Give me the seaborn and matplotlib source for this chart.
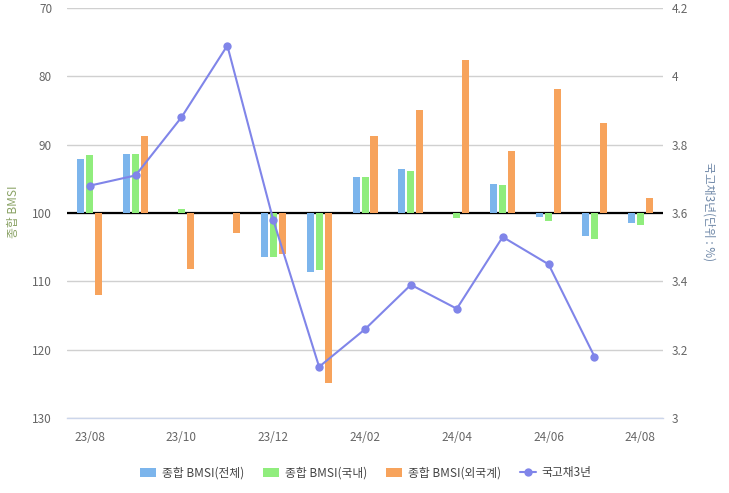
import numpy as np
import pandas as pd
import matplotlib
matplotlib.use("Agg")
import matplotlib.pyplot as plt
import seaborn as sns
from matplotlib.patches import Patch
from matplotlib.lines import Line2D

months = ['23/08', '23/09', '23/10', '23/11', '23/12', '24/01', '24/02',
          '24/03', '24/04', '24/05', '24/06', '24/07', '24/08']
bmsi_total = [92.1, 91.3, 100.0, 100.0, 106.4, 108.6, 94.7, 93.6, 100.0, 95.8, 100.6, 103.3, 101.5]
bmsi_domestic = [91.5, 91.4, 99.4, 100.0, 106.5, 108.3, 94.8, 93.8, 100.8, 95.9, 101.1, 103.8, 101.7]
bmsi_foreign = [112.0, 88.7, 108.2, 102.9, 106.0, 124.9, 88.7, 84.9, 77.6, 90.9, 81.9, 86.8, 97.8]
ktb3y = [3.68, 3.71, 3.88, 4.09, 3.58, 3.15, 3.26, 3.39, 3.32, 3.53, 3.45, 3.18, np.nan]

series_names = ['종합 BMSI(전체)', '종합 BMSI(국내)', '종합 BMSI(외국계)']
line_name = '국고채3년'
colors = ['#7cb5ec', '#90ed7d', '#f7a35c']
line_color = '#8085e9'

sns.set_style('white')
plt.rcParams['font.family'] = ['Noto Sans CJK KR', 'DejaVu Sans']

rows = []
for name, vals in zip(series_names, [bmsi_total, bmsi_domestic, bmsi_foreign]):
    for m, v in zip(months, vals):
        rows.append({'month': m, 'series': name, 'value': v, 'dev': v - 100})
df = pd.DataFrame(rows)

fig = plt.figure(figsize=(7.29, 4.93), dpi=100)
ax = fig.add_axes([0.0915, 0.152, 0.8184, 0.8318])

ax.axhline(100, color='black', lw=1.6, zorder=0.8)
sns.barplot(data=df, x='month', y='dev', hue='series', order=months,
            hue_order=series_names, palette=colors, width=0.588, gap=0.22,
            saturation=1, errorbar=None, bottom=100, linewidth=0,
            legend=False, ax=ax, zorder=2)

ax.set_ylim(130, 70)
ax.set_yticks(range(70, 131, 10))
ax.set_xlim(-0.5, 12.5)
ax.yaxis.grid(True, color='#d0d0d0', lw=1)
ax.set_axisbelow(True)
ax.set_xlabel('')
ax.set_ylabel('')
for s in ['top', 'left', 'right']:
    ax.spines[s].set_visible(False)
ax.spines['bottom'].set_color('#ccd6eb')
ax.spines['bottom'].set_linewidth(1)

ax.set_xticks(range(0, 13, 2))
ax.set_xticklabels(months[::2])
ax.set_xticks(np.arange(0.5, 13, 2), minor=True)
ax.tick_params(axis='x', which='major', length=0, pad=9, labelcolor='#666666', labelsize=8.5)
ax.tick_params(axis='x', which='minor', length=5, width=1, color='#ccd6eb')
ax.tick_params(axis='y', length=0, pad=10.5, labelcolor='#666666', labelsize=8.5)

ax2 = ax.twinx()
sns.lineplot(x=np.arange(len(months)), y=ktb3y, ax=ax2, color=line_color,
             marker='o', markersize=6, markeredgewidth=0, linewidth=1.5)
ax2.set_ylim(3.0, 4.2)
rticks = [3.0, 3.2, 3.4, 3.6, 3.8, 4.0, 4.2]
ax2.set_yticks(rticks)
ax2.set_yticklabels(['3', '3.2', '3.4', '3.6', '3.8', '4', '4.2'])
ax2.tick_params(axis='y', length=0, pad=6, labelcolor='#666666', labelsize=8.5)
ax2.set_xlim(-0.5, 12.5)
ax2.grid(False)
for s in ax2.spines.values():
    s.set_visible(False)
ax2.set_ylabel('')

fig.text(14 / 729, 1 - 212 / 493, '종합 BMSI', rotation=90, ha='center', va='center',
         color='#8ba366', fontsize=8.5)
fig.text(709 / 729, 1 - 212 / 493, '국고채3년(단위 : %)', rotation=270, ha='center', va='center',
         color='#6f88a8', fontsize=8.5)

handles = [Patch(facecolor=c, edgecolor='none') for c in colors]
handles.append(Line2D([0], [0], color=line_color, marker='o', markersize=6,
                      markeredgewidth=0, lw=1.5))
fig.legend(handles, series_names + [line_name], loc='center',
           bbox_to_anchor=(0.502, 0.0406), ncol=4, frameon=False, fontsize=8.5,
           handlelength=1.35, handleheight=0.9, handletextpad=0.5, columnspacing=1.6,
           labelcolor='#444444')

fig.savefig('out.png', dpi=100)
